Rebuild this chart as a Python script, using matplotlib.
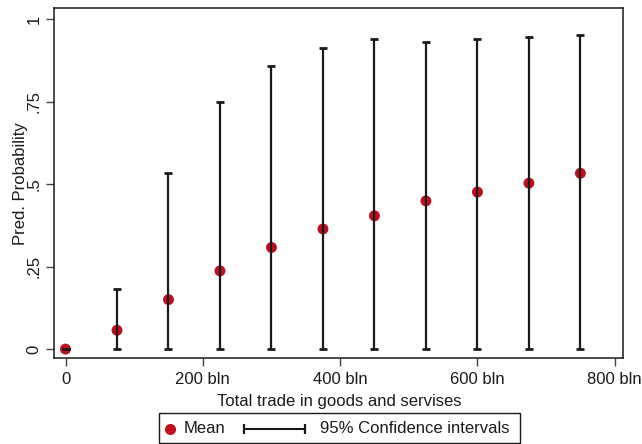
import matplotlib.pyplot as plt
from matplotlib.lines import Line2D
from matplotlib.patches import Rectangle

plt.rcParams['font.family'] = ['Liberation Sans', 'DejaVu Sans']

# predicted probability by total trade (bln)
trade = [0, 75, 150, 225, 300, 375, 450, 525, 600, 675, 750]
mean_prob = [0.0, 0.057, 0.150, 0.237, 0.308, 0.364, 0.404, 0.449, 0.476, 0.503, 0.533]
ci_low = [0, 0, 0, 0, 0, 0, 0, 0, 0, 0, 0]
ci_high = [0.0, 0.182, 0.534, 0.749, 0.857, 0.914, 0.941, 0.930, 0.941, 0.947, 0.953]

xticks = [0, 200, 400, 600, 800]
xticklabels = ['0', '200 bln', '400 bln', '600 bln', '800 bln']
yticks = [0, 0.25, 0.5, 0.75, 1]
yticklabels = ['0', '.25', '.5', '.75', '1']

red = '#BE0F1A'
dark = '#1a1a1a'
fs = 12

fig = plt.figure(figsize=(6.42, 4.44), dpi=100)
ax = fig.add_axes([0.0846, 0.1937, 0.8863, 0.7876])

# dots first, capped spikes drawn over them
ax.scatter(trade, mean_prob, s=62, color=red, zorder=2, edgecolors='none')
ax.vlines(trade, ci_low, ci_high, color=dark, lw=1.6, zorder=3)
ax.scatter(trade, ci_high, marker='_', s=40, color=dark, linewidths=2, zorder=3)
ax.scatter(trade, ci_low, marker='_', s=40, color=dark, linewidths=2, zorder=3)

ax.set_xlim(-16.3, 812.5)
ax.set_ylim(-0.027, 1.033)
ax.set_xticks(xticks)
ax.set_xticklabels(xticklabels)
ax.set_yticks(yticks)
ax.set_yticklabels(yticklabels, rotation=90, va='center')
ax.tick_params(axis='both', direction='out', length=6, width=1, color='#444444',
               labelsize=fs, labelcolor=dark)
ax.tick_params(axis='x', pad=4)
ax.tick_params(axis='y', pad=3)
for s in ax.spines.values():
    s.set_color(dark)
    s.set_linewidth(1.1)

ax.set_xlabel('Total trade in goods and servises', fontsize=fs, color=dark, labelpad=5)
ax.set_ylabel('Pred. Probability', fontsize=fs, color=dark, labelpad=-1)

# legend box below the plot, laid out by hand (Stata style)
W, H = 642, 444
def fx(px):
    return px / W
def fy(py):
    return 1 - py / H

fig.add_artist(Rectangle((fx(159), fy(443)), fx(519.5) - fx(159), fy(412.5) - fy(443),
                         transform=fig.transFigure, fill=False, edgecolor=dark, lw=1.0))
ly = fy(428.5)
fig.add_artist(Line2D([fx(170)], [ly], marker='o', color=red, markersize=8,
                      markeredgewidth=0, transform=fig.transFigure))
fig.text(fx(183.5), ly, 'Mean', fontsize=fs, color=dark, va='center', ha='left')
fig.add_artist(Line2D([fx(243.5), fx(304.5)], [ly, ly], color=dark, lw=1.5,
                      marker='|', markersize=7, markeredgewidth=1.6,
                      transform=fig.transFigure))
fig.text(fx(319.5), ly, '95% Confidence intervals', fontsize=fs, color=dark,
         va='center', ha='left')

fig.savefig('out.png', dpi=100)
